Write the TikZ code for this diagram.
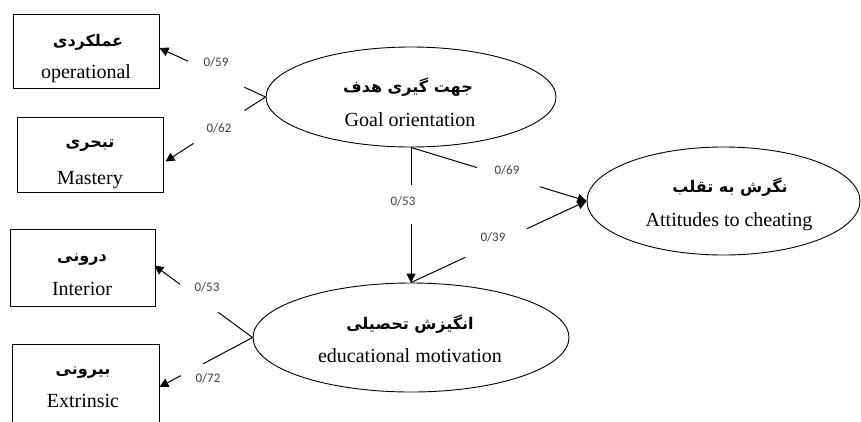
\documentclass[tikz,border=0pt]{standalone}
\usepackage{fontspec}
\setmainfont{Liberation Serif}
\newfontfamily\fafont[Script=Arabic]{DejaVu Sans}
\newfontfamily\lblfont{Carlito}
\TeXXeTstate=1
\usetikzlibrary{arrows.meta,shapes.geometric,calc}
\newcommand\fatext[1]{\beginR #1\endR}
\begin{document}
\begin{tikzpicture}[x=1pt,y=-1pt,
  box/.style={draw,line width=0.9pt,inner sep=0pt},
  oval/.style={draw,ellipse,line width=0.9pt,inner sep=0pt},
  fa/.style={font=\fafont\bfseries\fontsize{16}{16}\selectfont,inner sep=0pt,anchor=center},
  en/.style={font=\fontsize{20}{20}\selectfont,inner sep=0pt,anchor=base},
  conn/.style={line width=1pt},
  arr/.style={line width=1pt,-{Triangle[length=9pt,width=9pt]}},
  lbl/.style={font=\lblfont\fontsize{13}{15}\selectfont,text=black!75,inner sep=0pt}]
\clip (0,0) rectangle (861,421);
% boxes
\node[box,minimum width=146pt,minimum height=74pt] (op) at (86,51) {};
\node[box,minimum width=146pt,minimum height=75pt] (ma) at (90,154.5) {};
\node[box,minimum width=145pt,minimum height=77pt] (in) at (82.5,267.5) {};
\node[box,minimum width=147pt,minimum height=80pt] (ex) at (85.5,384) {};
% ellipses
\node[oval,minimum width=290pt,minimum height=100pt] (goal) at (411,97) {};
\node[oval,minimum width=316pt,minimum height=109pt] (edu) at (411,337.5) {};
\node[oval,minimum width=273pt,minimum height=108pt] (cheat) at (723.5,201) {};
% texts
\node[fa] (opfa) at (88,42) {\fatext{عملکردی}};
\node[en] (open) at (86,78) {operational};
\node[fa] (mafa) at (90,146) {\fatext{تبحری}};
\node[en] (maen) at (90,184) {Mastery};
\node[fa] (infa) at (82,260) {\fatext{درونی}};
\node[en] (inen) at (82,295) {Interior};
\node[fa] (exfa) at (83,373) {\fatext{بیرونی}};
\node[en] (exen) at (83,407) {Extrinsic};
\node[fa] (goalfa) at (408,87) {\fatext{جهت گیری هدف}};
\node[en] (goalen) at (410,126) {Goal orientation};
\node[fa] (edufa) at (410,324) {\fatext{انگیزش تحصیلی}};
\node[en] (eduen) at (410,362) {educational motivation};
\node[fa] (cheatfa) at (730,187) {\fatext{نگرش به تقلب}};
\node[en] (cheaten) at (729,226) {Attitudes to cheating};
% end points
\coordinate (opend) at ($(op.east)+(0,-3)$);
\coordinate (maend) at ($(ma.east)+(2,7)$);
\coordinate (inend) at ($(in.east)+(-1,-2)$);
\coordinate (exend) at ($(ex.east)+(0,3)$);
% goal -> op
\draw[conn] (goal.west) -- ($(goal.west)!0.2!(opend)$);
\draw[arr] ($(goal.west)!0.73!(opend)$) -- (opend);
% goal -> ma
\draw[conn] (goal.west) -- ($(goal.west)!0.21!(maend)$);
\draw[arr] ($(goal.west)!0.72!(maend)$) -- (maend);
% edu -> in
\draw[conn] (edu.west) -- ($(edu.west)!0.35!(inend)$);
\draw[arr] ($(edu.west)!0.74!(inend)$) -- (inend);
% edu -> ex
\draw[conn] (edu.west) -- ($(edu.west)!0.53!(exend)$);
\draw[arr] ($(edu.west)!0.77!(exend)$) -- (exend);
% goal -> edu
\draw[conn] (goal.south) -- ($(goal.south)!0.28!(edu.north)$);
\draw[arr] ($(goal.south)!0.57!(edu.north)$) -- (edu.north);
% goal -> cheat
\draw[conn] (goal.south) -- ($(goal.south)!0.375!(cheat.west)$);
\draw[arr] ($(goal.south)!0.733!(cheat.west)$) -- (cheat.west);
% edu -> cheat
\draw[conn] (edu.north) -- ($(edu.north)!0.31!(cheat.west)$);
\draw[arr] ($(edu.north)!0.66!(cheat.west)$) -- (cheat.west);
% labels
\node[lbl] (l1) at (216,62) {0/59};
\node[lbl] (l2) at (219,128) {0/62};
\node[lbl] (l3) at (207,287) {0/53};
\node[lbl] (l4) at (208,378) {0/72};
\node[lbl] (l5) at (403,201) {0/53};
\node[lbl] (l6) at (507,170) {0/69};
\node[lbl] (l7) at (493,237) {0/39};
\end{tikzpicture}
\end{document}
